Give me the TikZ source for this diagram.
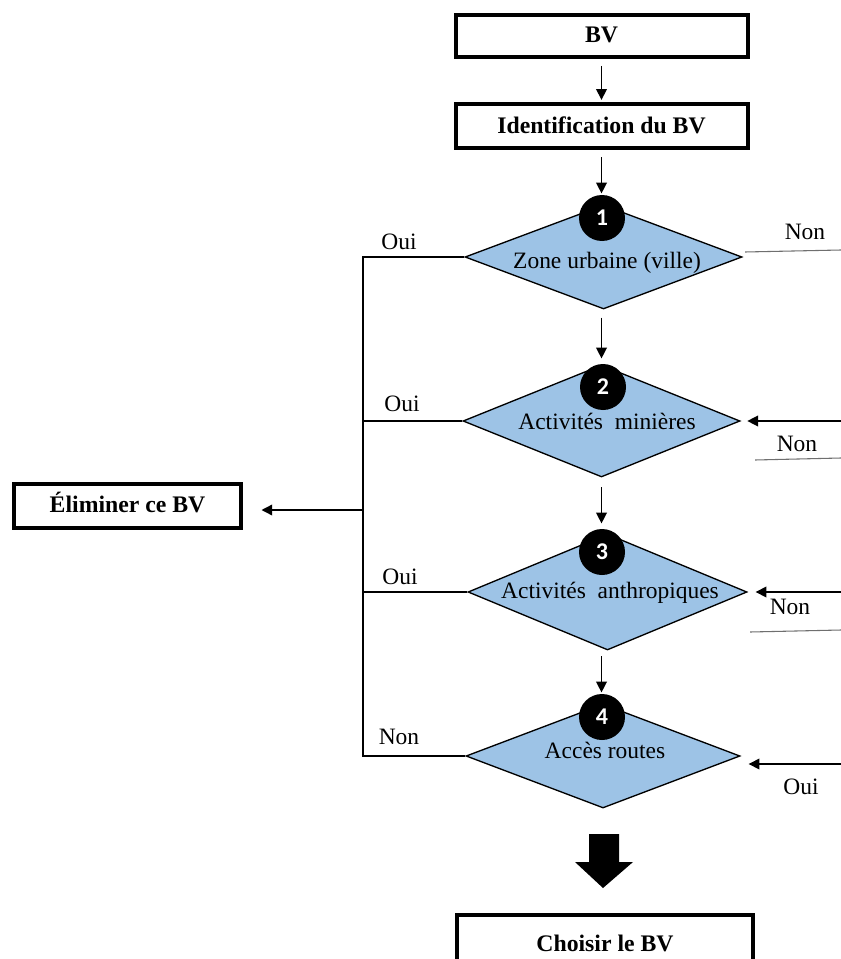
\documentclass[tikz,border=0pt]{standalone}
\usepackage{fontspec}
\setmainfont{Liberation Serif}
\newfontfamily\numfont{Carlito}
\usetikzlibrary{arrows.meta,shapes.geometric}
\definecolor{diafill}{HTML}{9DC3E6}
\definecolor{thinline}{HTML}{6F6F6F}
\tikzset{
  boxnode/.style={draw,line width=3pt,inner sep=0pt,font=\fontsize{17.8}{21}\selectfont\bfseries,text height=12pt,text depth=2pt},
  dianode/.style={draw,diamond,fill=diafill,line width=1pt,inner sep=0pt},
  numnode/.style={circle,fill=black,inner sep=0pt,minimum size=34.5pt,text=white,font=\numfont\fontsize{18}{20}\selectfont\bfseries},
  txt/.style={inner sep=0pt,font=\fontsize{17.6}{21}\selectfont,text height=12pt,text depth=3pt},
  conn/.style={line width=1pt},
  arr/.style={line width=1pt,-{Triangle[length=8pt,width=8pt]}},
  thin/.style={line width=0.8pt,draw=thinline}
}
\begin{document}
\begin{tikzpicture}[x=0.75pt,y=-0.75pt]
\useasboundingbox (0,0) rectangle (841,959);
% boxes
\node[boxnode,minimum width=219pt,minimum height=32pt] (bv) at (601.5,36) {BV};
\node[boxnode,minimum width=219pt,minimum height=33pt] (ident) at (601.5,126.5) {Identification du BV};
\node[boxnode,minimum width=170pt,minimum height=33pt] (elim) at (127.5,505.5) {Éliminer ce BV};
\node[boxnode,minimum width=222pt,minimum height=45pt] (choisir) at (605,945) {Choisir le BV};
% diamonds
\node[dianode,minimum width=207.75pt,minimum height=78pt] (d1) at (603.5,257) {};
\node[dianode,minimum width=207.75pt,minimum height=84pt] (d2) at (601.5,421) {};
\node[dianode,minimum width=209.25pt,minimum height=87pt] (d3) at (607.5,592) {};
\node[dianode,minimum width=205.5pt,minimum height=78pt] (d4) at (603,756) {};
% diamond texts
\node[txt] (t1) at (607,262) {Zone urbaine (ville)};
\node[txt] (t2) at (607,423) {Activités\ \ minières};
\node[txt] (t3) at (610,592) {Activités\ \ anthropiques};
\node[txt] (t4) at (605,752) {Accès routes};
% numbers
\node[numnode] (n1) at (602,218) {1};
\node[numnode] (n2) at (603,387) {2};
\node[numnode] (n3) at (602,552) {3};
\node[numnode] (n4) at (602,717) {4};
% vertical arrows
\draw[arr,shorten <=5pt,shorten >=2pt] (bv.south) -- (ident.north);
\draw[arr,shorten <=5pt,shorten >=1pt] (ident.south) -- (ident.south |- n1.north);
\draw[arr,shorten <=6pt,shorten >=4pt] (d1.south -| ident.south) -- (ident.south |- n2.north);
\draw[arr,shorten <=7pt,shorten >=4pt] (d2.south -| ident.south) -- (ident.south |- n3.north);
\draw[arr,shorten <=4pt,shorten >=1pt] (d3.south -| ident.south) -- (ident.south |- n4.north);
% left bus
\coordinate (v1) at (363,257);
\coordinate (v4) at (363,756);
\coordinate (vm) at (363,510);
\draw[conn] (d1.west) -- (v1) -- (v4) -- (d4.west);
\draw[conn] (d2.west) -- (d2.west -| v1);
\draw[conn] (d3.west) -- (d3.west -| v1);
\draw[arr,shorten >=14pt] (vm) -- (elim.east |- vm);
% left labels
\node[txt] (o1) at (399,243) {Oui};
\node[txt] (o2) at (402,405) {Oui};
\node[txt] (o3) at (400,578) {Oui};
\node[txt] (o4) at (399,738) {Non};
% right side
\coordinate (r1a) at (745,252);
\coordinate (r1b) at (841,250);
\draw[thin] (r1a) -- (r1b);
\coordinate (r2) at (841,421);
\draw[arr,shorten >=5pt] (r2) -- (d2.east);
\coordinate (r2a) at (755,460);
\coordinate (r2b) at (841,458);
\draw[thin] (r2a) -- (r2b);
\coordinate (r3) at (841,592);
\draw[arr,shorten >=6pt] (r3) -- (d3.east);
\coordinate (r3a) at (750,632);
\coordinate (r3b) at (841,630);
\draw[thin] (r3a) -- (r3b);
\coordinate (r4) at (841,764);
\draw[arr,shorten >=6pt] (r4) -- (d4.east |- r4);
\node[txt] (m1) at (805,233) {Non};
\node[txt] (m2) at (797,445) {Non};
\node[txt] (m3) at (790,608) {Non};
\node[txt] (m4) at (801,788) {Oui};
% block arrow
\fill[black] (589,834) -- (619,834) -- (619,862) -- (633,862) -- (603,888) -- (575,862) -- (589,862) -- cycle;
\end{tikzpicture}
\end{document}
